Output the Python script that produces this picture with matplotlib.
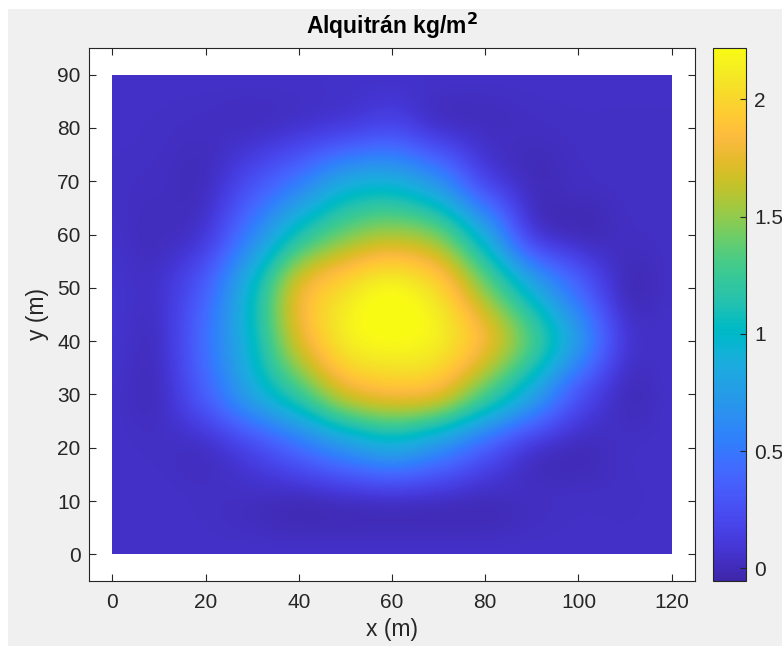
#!/usr/bin/env python3
# -*- coding: utf-8 -*-
"""Alquitrán kg/m^2 - mapa de distribución (estilo MATLAB, parula)."""
import numpy as np
import matplotlib
matplotlib.use("Agg")
import matplotlib.pyplot as plt
from matplotlib.colors import LinearSegmentedColormap
from matplotlib.patches import Rectangle

# grid nodes (m)
x_nodes = [0, 10, 20, 30, 40, 50, 60, 70, 80, 90, 100, 110, 120]
y_nodes = [0, 10, 20, 30, 40, 50, 60, 70, 80, 90]

# tar load (kg/m2), one row per y node (y = 0 ... 90)
tar_y0 = [0.05, 0.05, 0.05, 0.05, 0.05, 0.05, 0.05, 0.05, 0.05, 0.05, 0.05, 0.05, 0.05]
tar_y10 = [0.05, 0.05, 0.04, 0.03, 0.02, 0.05, 0.07, 0.05, 0.02, 0.03, 0.04, 0.04, 0.05]
tar_y20 = [0.05, 0.04, 0.06, 0.22, 0.45, 0.70, 0.85, 0.68, 0.38, 0.12, 0.02, 0.04, 0.05]
tar_y30 = [0.05, 0.04, 0.35, 0.80, 1.22, 1.65, 1.80, 1.72, 1.30, 0.82, 0.30, 0.03, 0.05]
tar_y40 = [0.07, 0.06, 0.45, 1.00, 1.68, 2.10, 2.20, 2.12, 1.78, 1.28, 0.70, 0.12, 0.05]
tar_y50 = [0.07, 0.07, 0.36, 0.98, 1.70, 2.02, 2.17, 1.98, 1.45, 0.88, 0.40, 0.03, 0.04]
tar_y60 = [0.05, 0.02, 0.12, 0.58, 1.10, 1.42, 1.55, 1.40, 0.85, 0.18, 0.02, 0.03, 0.04]
tar_y70 = [0.04, 0.03, 0.03, 0.25, 0.52, 0.82, 0.88, 0.65, 0.22, 0.02, 0.03, 0.04, 0.04]
tar_y80 = [0.05, 0.04, 0.03, 0.04, 0.09, 0.16, 0.22, 0.09, 0.03, 0.03, 0.04, 0.04, 0.04]
tar_y90 = [0.05, 0.05, 0.05, 0.05, 0.05, 0.05, 0.05, 0.05, 0.05, 0.05, 0.05, 0.05, 0.05]

x_ticks = [0, 20, 40, 60, 80, 100, 120]
y_ticks = [0, 10, 20, 30, 40, 50, 60, 70, 80, 90]
cbar_ticks = [0, 0.5, 1, 1.5, 2]
cbar_labels = ["0", "0.5", "1", "1.5", "2"]
clim = (-0.054, 2.219)

# MATLAB parula (64 entries)
PARULA = [
    (0.2422, 0.1504, 0.6603), (0.2504, 0.1650, 0.7076), (0.2578, 0.1818, 0.7511),
    (0.2647, 0.1978, 0.7952), (0.2706, 0.2147, 0.8364), (0.2751, 0.2342, 0.8710),
    (0.2783, 0.2559, 0.8991), (0.2803, 0.2782, 0.9221), (0.2813, 0.3006, 0.9414),
    (0.2810, 0.3228, 0.9579), (0.2795, 0.3447, 0.9717), (0.2760, 0.3667, 0.9829),
    (0.2699, 0.3892, 0.9906), (0.2602, 0.4123, 0.9952), (0.2440, 0.4358, 0.9988),
    (0.2206, 0.4603, 0.9973), (0.1963, 0.4847, 0.9892), (0.1834, 0.5074, 0.9798),
    (0.1786, 0.5289, 0.9682), (0.1764, 0.5499, 0.9520), (0.1687, 0.5703, 0.9359),
    (0.1540, 0.5902, 0.9218), (0.1460, 0.6091, 0.9079), (0.1380, 0.6276, 0.8973),
    (0.1248, 0.6459, 0.8883), (0.1113, 0.6635, 0.8763), (0.0952, 0.6798, 0.8598),
    (0.0689, 0.6948, 0.8394), (0.0297, 0.7082, 0.8163), (0.0036, 0.7203, 0.7917),
    (0.0067, 0.7312, 0.7660), (0.0433, 0.7411, 0.7394), (0.0964, 0.7500, 0.7120),
    (0.1408, 0.7584, 0.6842), (0.1717, 0.7670, 0.6554), (0.1938, 0.7758, 0.6251),
    (0.2161, 0.7843, 0.5923), (0.2470, 0.7918, 0.5567), (0.2906, 0.7973, 0.5188),
    (0.3406, 0.8008, 0.4789), (0.3909, 0.8029, 0.4354), (0.4456, 0.8024, 0.3909),
    (0.5044, 0.7993, 0.3480), (0.5616, 0.7942, 0.3045), (0.6174, 0.7876, 0.2612),
    (0.6720, 0.7793, 0.2227), (0.7242, 0.7698, 0.1910), (0.7738, 0.7598, 0.1646),
    (0.8203, 0.7498, 0.1535), (0.8634, 0.7406, 0.1596), (0.9035, 0.7330, 0.1774),
    (0.9393, 0.7288, 0.2100), (0.9728, 0.7298, 0.2394), (0.9956, 0.7434, 0.2371),
    (0.9970, 0.7659, 0.2199), (0.9952, 0.7893, 0.2028), (0.9892, 0.8136, 0.1885),
    (0.9786, 0.8386, 0.1766), (0.9676, 0.8639, 0.1643), (0.9610, 0.8890, 0.1537),
    (0.9597, 0.9135, 0.1423), (0.9628, 0.9373, 0.1265), (0.9691, 0.9606, 0.1064),
    (0.9769, 0.9839, 0.0805),
]
parula = LinearSegmentedColormap.from_list("parula", PARULA, N=256)

TXT = "#262626"
plt.rcParams["font.family"] = ["Liberation Sans", "DejaVu Sans"]

tar = np.array([tar_y0, tar_y10, tar_y20, tar_y30, tar_y40,
                tar_y50, tar_y60, tar_y70, tar_y80, tar_y90])
dx = x_nodes[1] - x_nodes[0]
dy = y_nodes[1] - y_nodes[0]
extent = [x_nodes[0] - dx / 2, x_nodes[-1] + dx / 2,
          y_nodes[0] - dy / 2, y_nodes[-1] + dy / 2]

fig = plt.figure(figsize=(7.82, 6.46), dpi=100, facecolor="white")
# MATLAB figure window grey
fig.patches.append(Rectangle((8 / 782, 0), 1, 1 - 9 / 646, transform=fig.transFigure,
                             facecolor="#f0f0f0", edgecolor="none", zorder=-10))

ax = fig.add_axes([89 / 782, 65 / 646, 606 / 782, 533 / 646])
ax.set_facecolor("white")
# catmull-rom passes through the node values
im = ax.imshow(tar, origin="lower", extent=extent, cmap=parula,
               vmin=clim[0], vmax=clim[1], interpolation="catrom", aspect="auto")
im.set_clip_path(Rectangle((x_nodes[0], y_nodes[0]), x_nodes[-1] - x_nodes[0],
                           y_nodes[-1] - y_nodes[0], transform=ax.transData))
ax.set_xlim(-5, 125)
ax.set_ylim(-5, 95)
ax.set_xticks(x_ticks)
ax.set_yticks(y_ticks)
ax.tick_params(direction="in", length=5, width=0.8, color=TXT, labelcolor=TXT,
               labelsize=15, top=True, right=True)
ax.tick_params(axis="x", pad=9)
ax.tick_params(axis="y", pad=6)
for s in ax.spines.values():
    s.set_color(TXT)
    s.set_linewidth(0.8)
ax.set_xlabel("x (m)", fontsize=16.5, color=TXT, labelpad=4)
ax.set_ylabel("y (m)", fontsize=16.5, color=TXT, labelpad=6)
ax.set_title("Alquitrán kg/m$^{\\mathbf{2}}$", fontsize=16.5, fontweight="bold",
             color="black", pad=10)

cax = fig.add_axes([713.3 / 782, 65 / 646, 32.7 / 782, 533 / 646])
cb = fig.colorbar(im, cax=cax, ticks=cbar_ticks)
cb.ax.set_yticklabels(cbar_labels)
cb.ax.tick_params(direction="in", length=4, width=0.8, color=TXT, labelcolor=TXT,
                  labelsize=15, pad=6)
cb.outline.set_edgecolor(TXT)
cb.outline.set_linewidth(0.8)

fig.savefig("out.png", dpi=100, facecolor=fig.get_facecolor())
